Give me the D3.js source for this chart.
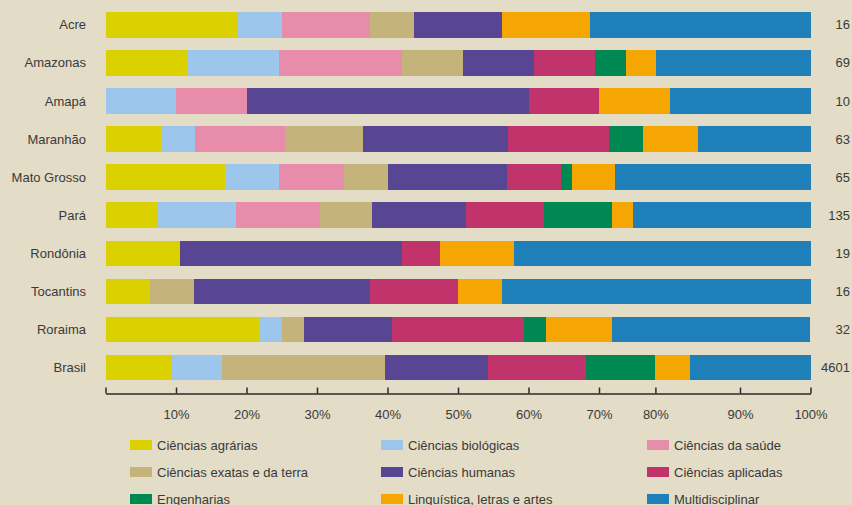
<!DOCTYPE html>
<html>
<head>
<meta charset="utf-8">
<script src="https://cdn.jsdelivr.net/npm/d3@7"></script>
<style>
  html, body { margin: 0; padding: 0; background: #e3dcc7; }
  svg { display: block; }
  text { font-family: "Liberation Sans", Arial, Helvetica, sans-serif; fill: #3a3a3a; }
</style>
</head>
<body>
<svg id="chart" width="852" height="505"></svg>
<script>
// ---- Data (percent of programs per area) ----
const states = ["Acre", "Amazonas", "Amapá", "Maranhão", "Mato Grosso", "Pará", "Rondônia", "Tocantins", "Roraima", "Brasil"];
const totals = [16, 69, 10, 63, 65, 135, 19, 16, 32, 4601];

const seriesNames = [
  "Ciências agrárias", "Ciências biológicas", "Ciências da saúde",
  "Ciências exatas e da terra", "Ciências humanas", "Ciências aplicadas",
  "Engenharias", "Linguística, letras e artes", "Multidisciplinar"
];
const seriesColors = ["#dcd100", "#9dc6ec", "#e78dab", "#c4b47b", "#584695", "#c0336b", "#008853", "#f5a603", "#1f80b9"];

const agrarias      = [18.75, 11.6, 0,  7.9, 16.9,  7.4, 10.5,  6.25, 21.9,  9.5];
const biologicas    = [ 6.25, 13.0, 10, 4.8,  7.7, 11.1,  0,    0,     3.1,  7.0];
const saude         = [12.5,  17.4, 10, 12.7, 9.2, 11.9,  0,    0,     0,    0];
const exatas        = [ 6.25,  8.7, 0,  11.1, 6.2,  7.4,  0,    6.25,  3.1, 23.1];
const humanas       = [12.5,  10.1, 40, 20.6, 16.9, 13.3, 31.6, 25.0,  12.5, 14.6];
const aplicadas     = [ 0,     8.7, 10, 14.3, 7.7, 11.1,  5.3, 12.5,  18.75, 13.9];
const engenharias   = [ 0,     4.3, 0,   4.8, 1.5,  9.6,  0,    0,     3.1,  9.8];
const linguistica   = [12.5,   4.3, 10,  7.9, 6.2,  3.0, 10.5,  6.25,  9.4,  5.0];
const multidisc     = [31.25, 21.9, 20, 15.9, 27.7, 25.2, 42.1, 43.75, 28.1, 17.1];

const seriesValues = [agrarias, biologicas, saude, exatas, humanas, aplicadas, engenharias, linguistica, multidisc];

const tickValues = [0, 10, 20, 30, 40, 50, 60, 70, 78, 90, 100];
const tickLabels = ["", "10%", "20%", "30%", "40%", "50%", "60%", "70%", "80%", "90%", "100%"];

// ---- Build table ----
const keys = seriesNames;
const table = states.map((s, i) => {
  const row = { state: s, total: totals[i] };
  keys.forEach((k, j) => { row[k] = seriesValues[j][i]; });
  return row;
});
const stack = d3.stack().keys(keys)(table);

const svg = d3.select("#chart");
const x = d3.scaleLinear().domain([0, 100]).range([105.5, 810.5]);
const y = d3.scaleBand().domain(states).range([5.7, 386.7]).paddingInner(0.33).paddingOuter(0.165);
const color = d3.scaleOrdinal().domain(keys).range(seriesColors);

// bars
svg.append("g").selectAll("g")
  .data(stack).join("g")
  .attr("fill", d => color(d.key))
  .selectAll("rect")
  .data(d => d.filter(p => p[1] - p[0] > 0))
  .join("rect")
  .attr("x", p => x(p[0]))
  .attr("y", p => y(p.data.state))
  .attr("width", p => x(p[1]) - x(p[0]))
  .attr("height", y.bandwidth())
  .attr("shape-rendering", "crispEdges");

// state labels
svg.append("g").selectAll("text")
  .data(states).join("text")
  .attr("x", 86)
  .attr("y", d => y(d) + y.bandwidth() / 2)
  .attr("dy", "0.35em")
  .attr("text-anchor", "end")
  .attr("font-size", 13)
  .text(d => d);

// totals
svg.append("g").selectAll("text")
  .data(table).join("text")
  .attr("x", 850)
  .attr("y", d => y(d.state) + y.bandwidth() / 2)
  .attr("dy", "0.35em")
  .attr("text-anchor", "end")
  .attr("font-size", 13)
  .text(d => d.total);

// axis
const axis = d3.axisBottom(x)
  .tickValues(tickValues)
  .tickFormat((d, i) => tickLabels[i])
  .tickSizeInner(-6)
  .tickSizeOuter(0)
  .tickPadding(16.5);
const ag = svg.append("g").attr("transform", "translate(0,393.5)").call(axis);
ag.select(".domain").attr("stroke", "#2a2a2a").attr("stroke-width", 1.5);
ag.selectAll(".tick line").attr("stroke", "#2a2a2a").attr("stroke-width", 1.5);
ag.selectAll(".tick text").attr("font-size", 13).attr("fill", "#3a3a3a")
  .attr("font-family", "'Liberation Sans', Arial, sans-serif");

// legend
const legendCols = [130, 381, 647];
const legendRows = [440, 467, 494];
const lg = svg.append("g").selectAll("g")
  .data(keys).join("g")
  .attr("transform", (d, i) => `translate(${legendCols[i % 3]},${legendRows[Math.floor(i / 3)]})`);
lg.append("rect")
  .attr("width", 22).attr("height", 10)
  .attr("fill", d => color(d));
lg.append("text")
  .attr("x", 27).attr("y", 5).attr("dy", "0.35em")
  .attr("font-size", 13)
  .text(d => d);
</script>
</body>
</html>
